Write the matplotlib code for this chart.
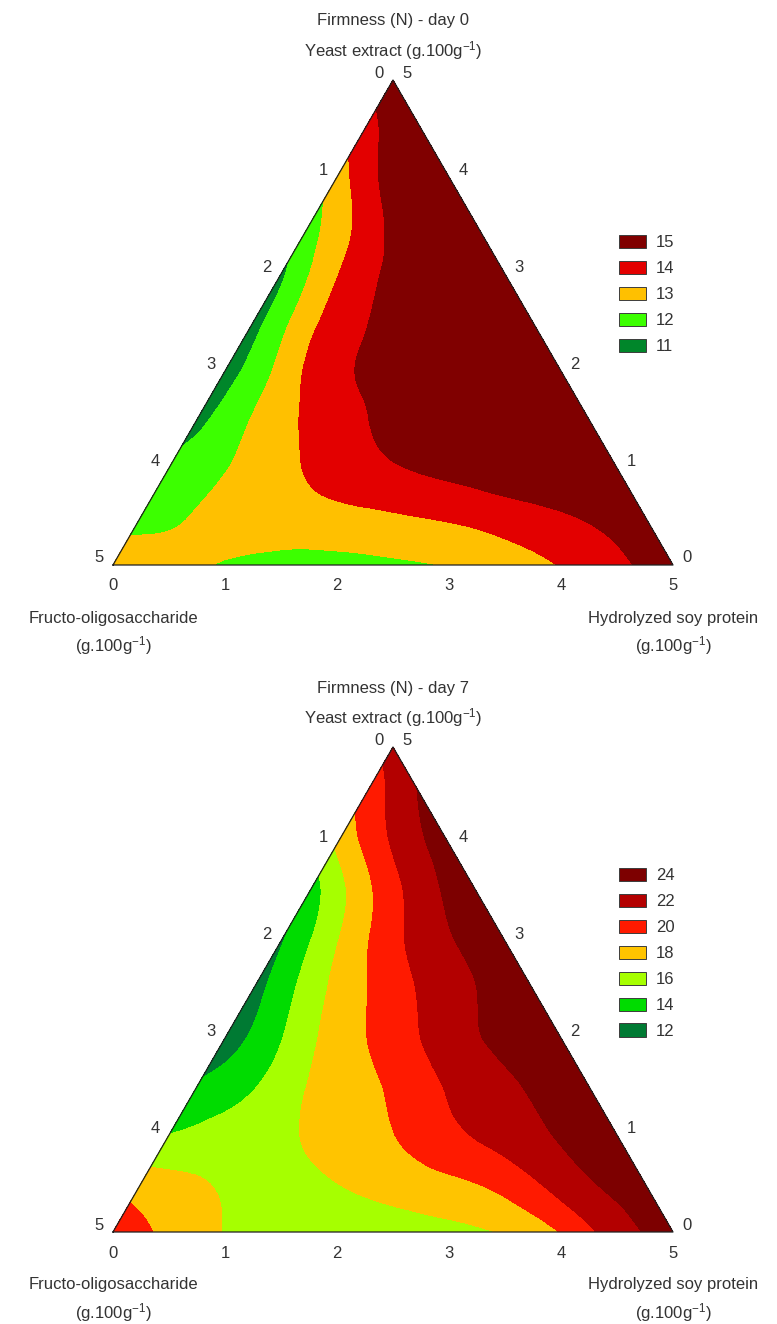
import numpy as np
import matplotlib.pyplot as plt
import matplotlib.tri as mtri
from matplotlib.patches import Patch

plt.rcParams['font.family'] = ['Liberation Sans', 'DejaVu Sans']
plt.rcParams['mathtext.default'] = 'regular'

# firmness, 0.5 g steps
# one row per yeast extract level (5 at the apex down to 0 at the base),
# values go from the left edge (soy protein 0) to the right edge (FOS 0)
step = 0.5

firm_day0 = [
    [15.3],
    [14.1, 15.4],
    [13.0, 14.9, 15.5],
    [12.1, 13.9, 15.3, 15.5],
    [11.3, 13.45, 14.75, 15.4, 15.5],
    [11.1, 13.2, 14.45, 15.2, 15.5, 15.5],
    [11.0, 12.8, 14.3, 14.75, 15.2, 15.4, 15.5],
    [11.2, 12.57, 13.68, 14.45, 15.2, 15.4, 15.4, 15.4],
    [11.8, 12.45, 13.2, 13.95, 14.4, 14.8, 15.1, 15.2, 15.2],
    [12.3, 12.55, 12.9, 13.1, 13.3, 13.52, 13.8, 14.2, 14.6, 15.0],
    [12.9, 12.7, 12.45, 12.2, 12.2, 12.35, 12.55, 13.0, 13.55, 14.3, 15.0],
]

firm_day7 = [
    [22.0],
    [19.6, 23.2],
    [17.3, 21.2, 24.0],
    [14.0, 18.4, 22.0, 24.5],
    [12.8, 16.9, 20.4, 22.8, 24.3],
    [12.2, 15.9, 18.9, 21.2, 23.0, 24.3],
    [12.0, 14.9, 17.9, 19.9, 22.1, 23.4, 24.3],
    [13.3, 14.85, 17.1, 18.6, 20.2, 22.05, 23.2, 24.2],
    [15.05, 15.8, 16.6, 17.8, 18.95, 20.5, 21.8, 23.2, 24.0],
    [18.0, 17.2, 16.4, 16.6, 17.4, 18.2, 19.0, 20.7, 22.8, 24.0],
    [20.5, 18.5, 16.9, 16.0, 15.8, 16.0, 16.5, 17.2, 19.1, 22.05, 24.1],
]

levels_day0 = [15, 14, 13, 12, 11]
colors_day0 = ['#800000', '#e30000', '#ffc000', '#3cff00', '#00862a']
levels_day7 = [24, 22, 20, 18, 16, 14, 12]
colors_day7 = ['#7d0000', '#b30000', '#ff1a00', '#ffc400', '#a6ff00', '#00dc00', '#007a33']

tick_labels = ['0', '1', '2', '3', '4', '5']
unit = '(g.100g$^{-1}$)'

W, HT = 777, 1324
PX = 112.0          # pixels per g.100g-1 along a side
R3 = np.sqrt(3) / 2
TXT = '#333333'
FS = 12


def grid_points(rows):
    xs, ys, zs = [], [], []
    for i, row in enumerate(rows):
        yeast = 5 - step * i
        for j, v in enumerate(row):
            soy = step * j
            xs.append(soy + yeast / 2)
            ys.append(yeast * R3)
            zs.append(v)
    return np.array(xs), np.array(ys), np.array(zs)


def draw_panel(fig, top_px, bot_px, base_px, rows, levels, colors, title):
    ax = fig.add_axes([0, 1 - bot_px / HT, 1, (bot_px - top_px) / HT])
    ax.set_xlim(-113 / PX, (W - 113) / PX)
    ax.set_ylim(-(bot_px - base_px) / PX, (base_px - top_px) / PX)
    ax.axis('off')

    x, y, z = grid_points(rows)
    tri = mtri.Triangulation(x, y)
    tri_r, z_r = mtri.UniformTriRefiner(tri).refine_field(z, subdiv=3)
    lv = sorted(levels)
    bounds = [lv[0] - 100] + [(a + b) / 2 for a, b in zip(lv[:-1], lv[1:])] + [lv[-1] + 100]
    ax.tricontourf(tri_r, z_r, levels=bounds, colors=colors[::-1])
    ax.plot([0, 5, 2.5, 0], [0, 0, 5 * R3, 0], color='#202020', lw=0.9)

    for k, lab in enumerate(tick_labels):
        ax.text(k, -21 / PX, lab, ha='center', va='center', color=TXT, fontsize=FS)
        # left side: fructo-oligosaccharide, 0 at the apex
        ax.text((5 - k) / 2 - 14 / PX, (5 - k) * R3 + 7 / PX, lab,
                ha='center', va='center', color=TXT, fontsize=FS)
        # right side: yeast extract, 0 at the bottom right
        ax.text(5 - k / 2 + 14 / PX, k * R3 + 7 / PX, lab,
                ha='center', va='center', color=TXT, fontsize=FS)

    ax.text(2.5, 544 / PX, title, ha='center', va='center', color=TXT, fontsize=FS)
    ax.text(2.5, 514 / PX, 'Yeast extract ' + unit, ha='center', va='center', color=TXT, fontsize=FS)
    ax.text(0, -53 / PX, 'Fructo-oligosaccharide', ha='center', va='center', color=TXT, fontsize=FS)
    ax.text(0, -81 / PX, unit, ha='center', va='center', color=TXT, fontsize=FS)
    ax.text(5, -53 / PX, 'Hydrolyzed soy protein', ha='center', va='center', color=TXT, fontsize=FS)
    ax.text(5, -81 / PX, unit, ha='center', va='center', color=TXT, fontsize=FS)
    return ax


fig = plt.figure(figsize=(W / 100, HT / 100), dpi=100)

draw_panel(fig, 0, 662, 565, firm_day0, levels_day0, colors_day0, 'Firmness (N) - day 0')
draw_panel(fig, 662, HT, 1232, firm_day7, levels_day7, colors_day7, 'Firmness (N) - day 7')

for leg_top, levels, colors in [(235, levels_day0, colors_day0), (868, levels_day7, colors_day7)]:
    handles = [Patch(facecolor=c, edgecolor='#3c3c3c', linewidth=0.7) for c in colors]
    fig.legend(handles, [str(l) for l in levels], loc='upper left',
               bbox_to_anchor=(619 / W, 1 - leg_top / HT), bbox_transform=fig.transFigure,
               frameon=False, fontsize=FS, labelcolor=TXT, handlelength=1.6, handleheight=0.85,
               handletextpad=0.6, labelspacing=0.63, borderpad=0, borderaxespad=0)

fig.savefig('out.png', dpi=100)
